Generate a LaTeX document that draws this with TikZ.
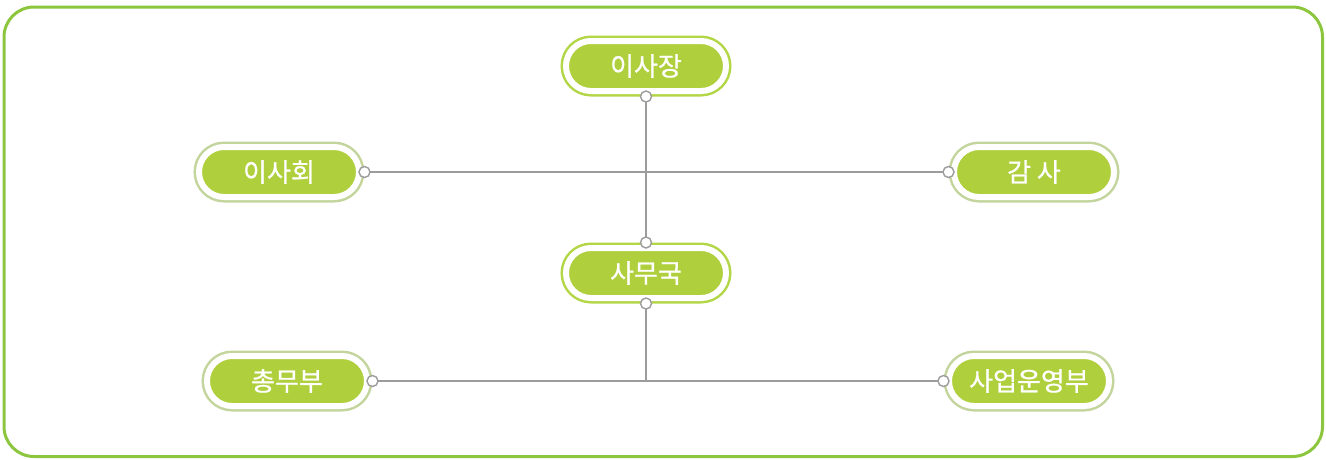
\documentclass[tikz,border=0pt]{standalone}
\usepackage{fontspec}
\newfontfamily\kr{Noto Sans CJK KR}[FakeBold=0.8]
\definecolor{frame}{HTML}{8CC63E}
\definecolor{pillfill}{HTML}{AFCF3D}
\definecolor{ringA}{HTML}{B3D647}
\definecolor{ringB}{HTML}{C3D59C}
\definecolor{conn}{HTML}{9C9C9C}
\begin{document}
\begin{tikzpicture}[x=1pt,y=-1pt,
  pill/.style={rounded corners=25pt, minimum width=160pt, minimum height=50pt,
    fill=pillfill, draw=white, line width=6pt, outer sep=5.5pt,
    text=white, font=\kr\fontsize{26}{30}\selectfont, inner sep=0pt},
  pillA/.style={pill, preaction={draw=ringA, line width=11pt}},
  pillB/.style={pill, preaction={draw=ringB, line width=11pt}},
  connline/.style={draw=conn, line width=2pt},
  dot/.style={circle, draw=conn, fill=white, line width=1.4pt, minimum size=11pt, inner sep=0pt}]
\useasboundingbox (0,0) rectangle (1326,459);
\draw[frame, line width=3pt, rounded corners=30pt] (4,7) rectangle (1322.5,456.5);

\node[pillA] (jang) at (646,66) {이사장};
\node[pillB] (hoe) at (279,172) {이사회};
\node[pillB] (gam) at (1034,172) {감 사};
\node[pillA] (samu) at (646,273) {사무국};
\node[pillB] (chong) at (287,381) {총무부};
\node[pillB] (saeop) at (1029,381) {사업운영부};

\draw[connline] (jang.south) -- (samu.north);
\draw[connline] (hoe.east) -- (gam.west);
\coordinate (junc) at (samu.south |- chong.east);
\draw[connline] (samu.south) -- (junc);
\draw[connline] (chong.east) -- (saeop.west);

\foreach \a in {jang.south, hoe.east, gam.west, samu.north, samu.south, chong.east, saeop.west}
  \node[dot] at (\a) {};
\end{tikzpicture}
\end{document}
